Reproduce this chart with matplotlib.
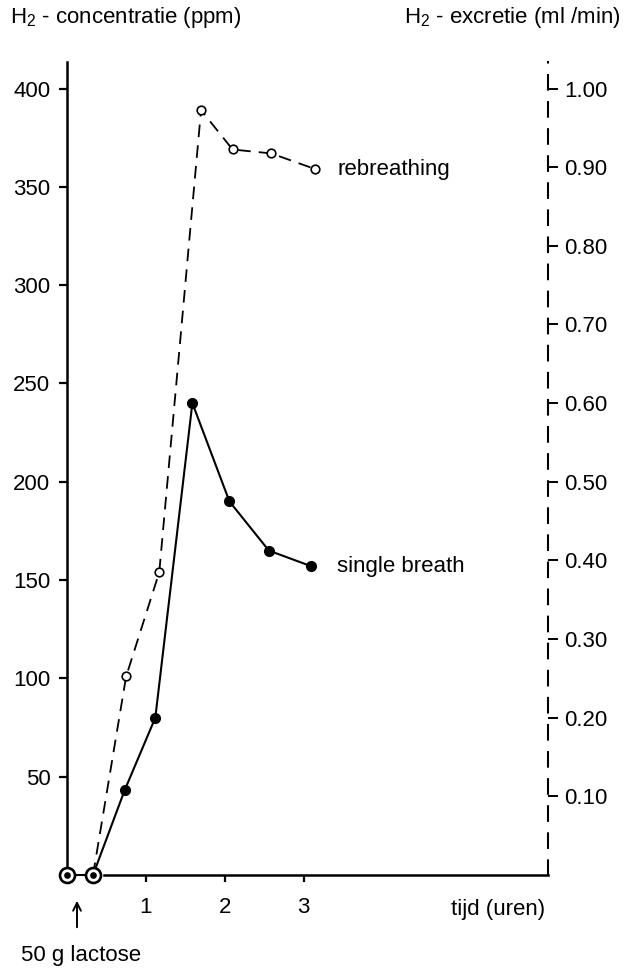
import numpy as np
import matplotlib
matplotlib.use("Agg")
import matplotlib.pyplot as plt

plt.rcParams['font.family'] = ['Liberation Sans', 'DejaVu Sans']
plt.rcParams['mathtext.fontset'] = 'custom'
plt.rcParams['mathtext.rm'] = 'Liberation Sans'

# time (hours) and H2 concentration (ppm)
base_t = [0.0, 0.33]
base_ppm = [0, 0]

single_t = [0.33, 0.73, 1.12, 1.59, 2.06, 2.56, 3.10]
single_ppm = [0, 43, 80, 240, 190, 165, 157]

rebreath_t = [0.33, 0.75, 1.17, 1.70, 2.10, 2.59, 3.15]
rebreath_ppm = [0, 101, 154, 389, 369, 367, 359]

left_ticks = [50, 100, 150, 200, 250, 300, 350, 400]
right_ticks = [0.10, 0.20, 0.30, 0.40, 0.50, 0.60, 0.70, 0.80, 0.90, 1.00]
x_ticks = [1, 2, 3]

ppm_per_excr = 400  # 1.00 ml/min sits at 400 ppm
fs = 16

fig = plt.figure(figsize=(6.27, 9.68), dpi=100)
W, H = 627, 968
x0, x1, ybot, ytop = 67, 548, 875, 62
ax = fig.add_axes([x0 / W, 1 - ybot / H, (x1 - x0) / W, (ybot - ytop) / H])
ax.set_xlim(0, 6.1)
ax.set_ylim(0, 413.5)

ax2 = ax.twinx()
ax2.set_ylim(0, 413.5 / ppm_per_excr)

for s in ['top', 'right']:
    ax.spines[s].set_visible(False)
for s in ['top', 'left', 'bottom']:
    ax2.spines[s].set_visible(False)

ax.spines['left'].set_linewidth(1.8)
ax.spines['bottom'].set_linewidth(1.8)
ax.spines['bottom'].set_bounds(0.47, 6.1)
ax2.spines['right'].set_linewidth(1.5)
ax2.spines['right'].set_linestyle((0, (7, 6)))

ax.set_yticks(left_ticks)
ax.set_yticklabels([str(v) for v in left_ticks])
ax.set_xticks(x_ticks)
ax.set_xticklabels([str(v) for v in x_ticks])
ax.tick_params(axis='y', direction='out', length=6, width=1.6, pad=6, labelsize=fs)
ax.tick_params(axis='x', direction='out', length=5, width=1.6, pad=11, labelsize=fs)

ax2.set_yticks(right_ticks)
ax2.set_yticklabels(['%.2f' % v for v in right_ticks])
ax2.tick_params(axis='y', direction='out', length=7, width=1.4, pad=4.5, labelsize=fs)

# rebreathing: dashed with open circles
ax.plot(rebreath_t, rebreath_ppm, color='black', lw=1.3, dashes=(7, 4.5),
        zorder=3)
ax.plot(rebreath_t[1:], rebreath_ppm[1:], 'o', ms=6.2, mfc='white', mec='black',
        mew=1.2, zorder=4)

# single breath: solid with filled dots
ax.plot(single_t, single_ppm, color='black', lw=1.5, zorder=3)
ax.plot(single_t[1:], single_ppm[1:], 'o', ms=7, color='black', zorder=4)

# baseline measurements (both methods) drawn as circled dots
ax.plot(base_t, base_ppm, color='black', lw=1.5, zorder=4, clip_on=False)
ax.plot(base_t, base_ppm, 'o', ms=10.8, mfc='white', mec='black', mew=1.9,
        zorder=5, clip_on=False)
ax.plot(base_t, base_ppm, 'o', ms=3.8, color='black', zorder=6, clip_on=False)

ax.text(3.43, 359, 'rebreathing', fontsize=fs, va='center', ha='left')
ax.text(3.42, 157, 'single breath', fontsize=fs, va='center', ha='left')

fig.text(10 / W, 1 - 18 / H, r'H$_2$ - concentratie (ppm)', fontsize=fs,
         ha='left', va='center')
fig.text(621 / W, 1 - 18 / H, r'H$_2$ - excretie (ml /min)', fontsize=fs,
         ha='right', va='center')
fig.text(545 / W, 1 - 910 / H, 'tijd (uren)', fontsize=fs, ha='right', va='center')

ax.annotate('', xy=(77 / W, 1 - 898 / H), xytext=(77 / W, 1 - 930 / H),
            xycoords='figure fraction', textcoords='figure fraction',
            arrowprops=dict(arrowstyle='->', lw=1.4, color='black',
                            mutation_scale=14))
fig.text(21 / W, 1 - 955 / H, '50 g lactose', fontsize=fs, ha='left', va='center')

fig.savefig('out.png', dpi=100, facecolor='white')
